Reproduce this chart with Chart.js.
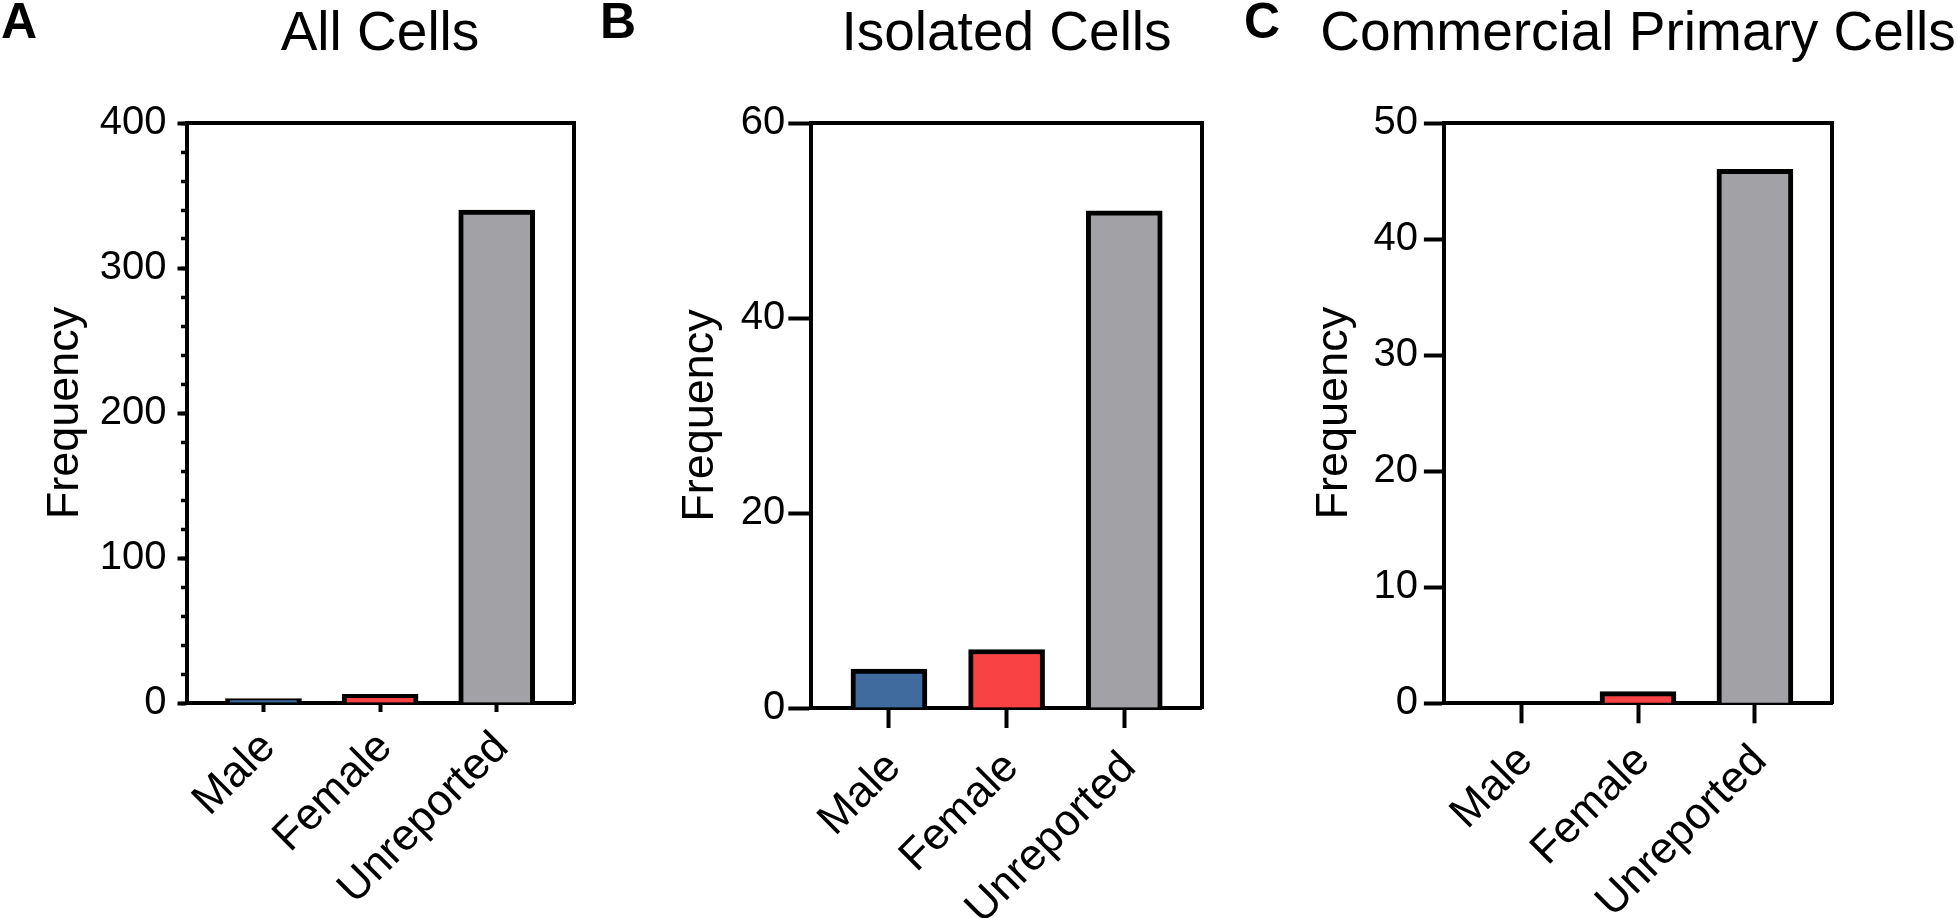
<!DOCTYPE html>
<html lang="en">
<head>
<meta charset="utf-8">
<title>Sex of cells used</title>
<script src="https://cdn.jsdelivr.net/npm/chart.js@4.4.1/dist/chart.umd.min.js"></script>
<style>
  html, body { margin: 0; padding: 0; background: #fff; }
  body { position: relative; width: 1958px; height: 918px; overflow: hidden; }
  canvas { position: absolute; top: 0; }
</style>
</head>
<body>
<canvas id="chartA"></canvas>
<canvas id="chartB"></canvas>
<canvas id="chartC"></canvas>
<script>
// values
const categories = ['Male', 'Female', 'Unreported'];
const allCells = [3, 6, 340];
const isolatedCells = [4, 6, 51];
const commercialCells = [0, 1, 46];
const barColors = ['#3f6b9e', '#f84244', '#a2a1a6'];

const ticksAll = [0, 100, 200, 300, 400];
const ticksIsolated = [0, 20, 40, 60];
const ticksCommercial = [0, 10, 20, 30, 40, 50];

const FONT = '"Liberation Sans", Arial, Helvetica, sans-serif';
Chart.defaults.font.family = FONT;
Chart.defaults.color = '#000';

const X_MIN = -0.66;
const X_MAX = 2.66;
const frameBorder = { display: true, width: 4, color: '#000' };

// page placement of each panel, in px
const panels = [
  { id: 'chartA', letter: 'A', title: 'All Cells', values: allCells, ticks: ticksAll, minorStep: 20,
    left: 0, width: 760, yAxisW: 186.5, rightW: 186.3, xAxisH: 215,
    yTick: 9, xTick: 9, yPad: 11, xPad: 10, yTitlePad: 39, letterX: 1 },
  { id: 'chartB', letter: 'B', title: 'Isolated Cells', values: isolatedCells, ticks: ticksIsolated,
    left: 600, width: 813, yAxisW: 211.3, rightW: 211.1, xAxisH: 210,
    yTick: 23, xTick: 20, yPad: 3, xPad: 14, yTitlePad: 74, letterX: 0 },
  { id: 'chartC', letter: 'C', title: 'Commercial Primary Cells', values: commercialCells, ticks: ticksCommercial,
    left: 1240, width: 796, yAxisW: 203.9, rightW: 203.9, xAxisH: 214.7,
    yTick: 20, xTick: 20, yPad: 6, xPad: 12, yTitlePad: 68, letterX: 4 }
];

// bold panel letter in the top-left corner
const panelLetter = {
  id: 'panelLetter',
  afterDraw(chart, args, opts) {
    const ctx = chart.ctx;
    ctx.save();
    ctx.font = 'bold 50px ' + FONT;
    ctx.fillStyle = '#000';
    ctx.textBaseline = 'alphabetic';
    ctx.fillText(opts.text, opts.x, 38.3);
    ctx.restore();
  }
};

function buildPanel(p) {
  const canvas = document.getElementById(p.id);
  canvas.width = p.width;
  canvas.height = 918;
  canvas.style.left = p.left + 'px';
  const yMax = p.ticks[p.ticks.length - 1];

  const scales = {
    x: {
      type: 'linear', position: 'bottom', min: X_MIN, max: X_MAX, z: 1,
      offset: false,
      afterBuildTicks: s => { s.ticks = categories.map((c, i) => ({ value: i })); },
      afterFit: s => { s.height = p.xAxisH; },
      ticks: {
        autoSkip: false, minRotation: 45, maxRotation: 45,
        padding: p.xPad, labelOffset: 5,
        font: { size: 44 },
        callback: v => categories[v]
      },
      grid: { offset: false, drawOnChartArea: false, tickLength: p.xTick, tickWidth: 4, tickColor: '#000' },
      border: frameBorder
    },
    y: {
      type: 'linear', position: 'left', min: 0, max: yMax, weight: 1,
      afterBuildTicks: s => { s.ticks = p.ticks.map(v => ({ value: v })); },
      afterFit: s => { s.width = p.yAxisW; },
      ticks: { padding: p.yPad, font: { size: 40 } },
      grid: { drawOnChartArea: false, tickLength: p.yTick, tickWidth: 4, tickColor: '#000' },
      border: frameBorder,
      title: { display: true, text: 'Frequency', font: { size: 45 }, padding: { top: p.yTitlePad, bottom: 0 } }
    },
    top: {
      type: 'linear', position: 'top', min: X_MIN, max: X_MAX,
      ticks: { display: false }, grid: { display: false }, border: frameBorder,
      afterFit: s => { s.height = 0; }
    },
    right: {
      type: 'linear', position: 'right', min: 0, max: yMax,
      ticks: { display: false }, grid: { display: false }, border: frameBorder,
      afterFit: s => { s.width = p.rightW; }
    }
  };

  if (p.minorStep) {
    // short unlabeled ticks between the major ones
    scales.yMinor = {
      type: 'linear', position: 'left', min: 0, max: yMax, weight: 0,
      ticks: { display: false, stepSize: p.minorStep, maxTicksLimit: 50 },
      grid: { drawOnChartArea: false, tickLength: 5.5, tickWidth: 3.5, tickColor: '#000' },
      border: { display: false },
      afterFit: s => { s.width = 0; }
    };
  }

  new Chart(canvas, {
    type: 'bar',
    data: {
      datasets: [{
        xAxisID: 'x',
        yAxisID: 'y',
        data: categories.map((c, i) => ({ x: i, y: p.values[i] })),
        backgroundColor: barColors,
        borderColor: '#000',
        borderWidth: 5,
        borderSkipped: 'start',
        barThickness: 76
      }]
    },
    options: {
      responsive: false,
      animation: false,
      events: [],
      layout: { padding: 0 },
      scales: scales,
      plugins: {
        legend: { display: false },
        tooltip: { enabled: false },
        title: {
          display: true, text: p.title, color: '#000',
          font: { size: 55, weight: 'normal' },
          padding: { top: 2, bottom: 55 }
        },
        panelLetter: { text: p.letter, x: p.letterX }
      }
    },
    plugins: [panelLetter]
  });
}

panels.forEach(buildPanel);
</script>
</body>
</html>
